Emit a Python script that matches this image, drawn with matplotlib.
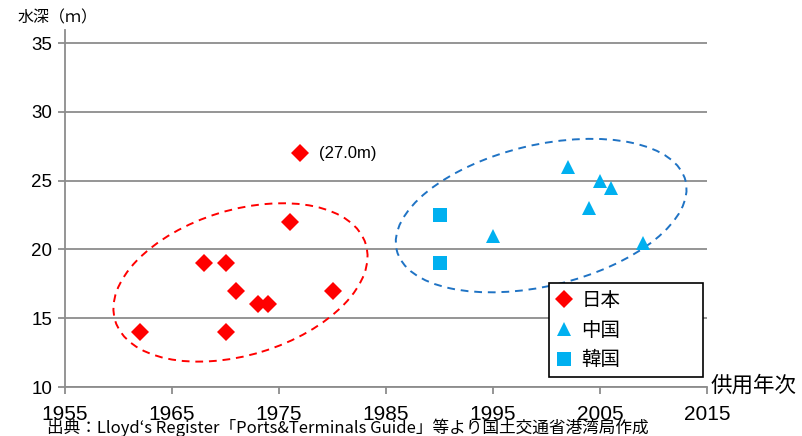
import matplotlib.pyplot as plt
from matplotlib.patches import Ellipse
from matplotlib.transforms import IdentityTransform

plt.rcParams['font.family'] = ['Liberation Sans', 'Noto Sans CJK JP', 'DejaVu Sans']

# 日本
jp_year = [1962, 1968, 1970, 1971, 1970, 1973, 1974, 1976, 1980, 1977]
jp_depth = [14, 19, 19, 17, 14, 16, 16, 22, 17, 27]
# 中国
cn_year = [2002, 2005, 2006, 2004, 1995, 2009]
cn_depth = [26, 25, 24.5, 23, 21, 20.5]
# 韓国
kr_year = [1990, 1990]
kr_depth = [22.5, 19]

xticks = [1955, 1965, 1975, 1985, 1995, 2005, 2015]
yticks = [10, 15, 20, 25, 30, 35]

fig = plt.figure(figsize=(8.02, 4.36), dpi=100)
ax = fig.add_axes([65/802, 49/436, 642/802, 357/436])

ax.set_xlim(1955, 2015)
ax.set_ylim(10, 35.95)
ax.set_xticks(xticks)
ax.set_yticks(yticks)
ax.yaxis.grid(True, color='#8c8c8c', linewidth=1.3)
ax.set_axisbelow(True)
for s in ['top', 'right']:
    ax.spines[s].set_visible(False)
for s in ['left', 'bottom']:
    ax.spines[s].set_color('#8c8c8c')
    ax.spines[s].set_linewidth(1.3)
ax.tick_params(axis='both', color='#8c8c8c', width=1.3, length=5)
ax.tick_params(axis='x', labelsize=15, pad=8)
ax.tick_params(axis='y', labelsize=13.5, pad=4)

ax.plot(jp_year, jp_depth, 'D', color='#ff0000', markersize=9.5, markeredgewidth=0, label='日本', zorder=3)
ax.plot(cn_year, cn_depth, '^', color='#00b0f0', markersize=10.5, markeredgewidth=0, label='中国', zorder=3)
ax.plot(kr_year, kr_depth, 's', color='#00b0f0', markersize=10, markeredgewidth=0, label='韓国', zorder=3)

ax.text(1978.7, 27, '(27.0m)', fontsize=12, va='center', ha='left')

# dashed ellipses (sizes in pixels)
fig.canvas.draw()
for cx, cy, w, h, ang, col in [(1971.4, 17.6, 262, 145, 17, '#ff0000'),
                               (1999.5, 22.46, 297, 141, 13.4, '#1f73c4')]:
    px, py = ax.transData.transform((cx, cy))
    e = Ellipse((px, py), w, h, angle=ang, transform=IdentityTransform(),
                fill=False, edgecolor=col, linewidth=1.4, linestyle=(0, (4, 3)), zorder=2)
    ax.add_artist(e)

leg = ax.legend(loc='upper left', bbox_to_anchor=(0.754, 0.028, 0.24, 0.263), mode='expand',
                borderaxespad=0, frameon=True, fancybox=False, edgecolor='black',
                handlelength=0.8, handletextpad=0.5, labelspacing=0.45,
                borderpad=0.35, prop={'family': ['Noto Sans CJK JP'], 'size': 14})
leg.get_frame().set_linewidth(1.2)
leg.get_frame().set_alpha(1)
leg.set_zorder(5)

fig.text(18/802, 1 - 18/436, '水深（ｍ）', fontsize=11.5, va='center', ha='left',
         family=['Noto Sans CJK JP'])
fig.text(711/802, 1 - 386/436, '供用年次', fontsize=15.5, va='center', ha='left',
         family=['Noto Sans CJK JP'])
fig.text(47/802, 1 - 428/436, '出典：Lloyd‘s Register「Ports&Terminals Guide」等より国土交通省港湾局作成',
         fontsize=12, va='center', ha='left', family=['Noto Sans CJK JP', 'DejaVu Sans'])

fig.savefig('out.png', dpi=100)
